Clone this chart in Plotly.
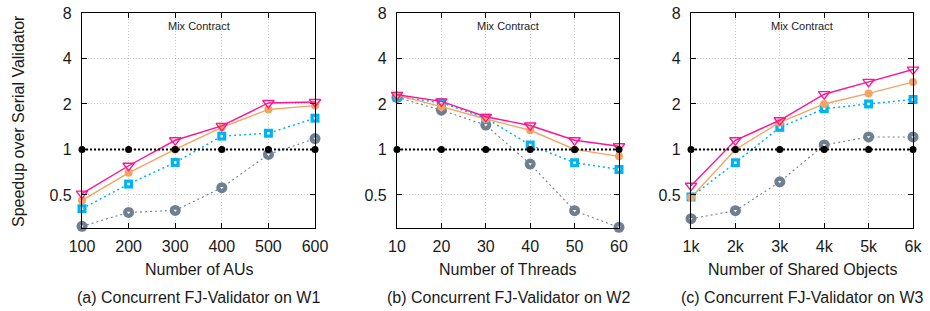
import math
import plotly.graph_objects as go

# ---------------- data ----------------
x_a = [100, 200, 300, 400, 500, 600]
x_b = [10, 20, 30, 40, 50, 60]
x_c = [1, 2, 3, 4, 5, 6]
x_c_labels = ["1k", "2k", "3k", "4k", "5k", "6k"]

# panel (a) W1 - Number of AUs
a_pink = [0.51, 0.78, 1.15, 1.43, 2.03, 2.06]
a_orange = [0.46, 0.70, 1.00, 1.40, 1.84, 1.95]
a_cyan = [0.405, 0.59, 0.82, 1.225, 1.28, 1.61]
a_gray = [0.31, 0.383, 0.395, 0.558, 0.927, 1.18]
a_black = [1, 1, 1, 1, 1, 1]

# panel (b) W2 - Number of Threads
b_pink = [2.30, 2.08, 1.645, 1.44, 1.15, 1.05]
b_orange = [2.28, 1.92, 1.59, 1.34, 1.00, 0.90]
b_cyan = [2.22, 2.04, 1.61, 1.07, 0.816, 0.737]
b_gray = [2.21, 1.82, 1.45, 0.80, 0.393, 0.305]
b_black = [1, 1, 1, 1, 1, 1]

# panel (c) W3 - Number of Shared Objects
c_pink = [0.575, 1.15, 1.56, 2.32, 2.80, 3.38]
c_orange = [0.48, 1.00, 1.51, 2.00, 2.35, 2.79]
c_cyan = [0.485, 0.816, 1.40, 1.86, 2.00, 2.14]
c_gray = [0.348, 0.393, 0.61, 1.07, 1.21, 1.21]
c_black = [1, 1, 1, 1, 1, 1]

y_ticks = [0.5, 1, 2, 4, 8]
y_tick_labels = ["0.5", "1", "2", "4", "8"]

x_titles = ["Number of AUs", "Number of Threads", "Number of Shared Objects"]
captions = ["(a) Concurrent FJ-Validator on W1",
            "(b) Concurrent FJ-Validator on W2",
            "(c) Concurrent FJ-Validator on W3"]
inner_label = "Mix Contract"
y_title = "Speedup over Serial Validator"

# ---------------- styling ----------------
W, H = 930, 311
FONT = "Liberation Sans, Arial, Helvetica, sans-serif"
TXT = "#1a1a1a"
PINK = "#ff1493"
ORANGE = "#f4a460"
CYAN = "#00b4f0"
GRAY = "#6e7f8f"
BLACK = "#000000"

dom_x = [(82 / W, 315 / W), (397 / W, 619 / W), (691 / W, 913 / W)]
dom_y = (1 - 228 / H, 1 - 13 / H)

fig = go.Figure()

panels = [
    (x_a, a_gray, a_cyan, a_orange, a_pink, a_black),
    (x_b, b_gray, b_cyan, b_orange, b_pink, b_black),
    (x_c, c_gray, c_cyan, c_orange, c_pink, c_black),
]

for i, (xs, gray, cyan, orange, pink, black) in enumerate(panels):
    xa = "x" if i == 0 else f"x{i+1}"
    ya = "y" if i == 0 else f"y{i+1}"
    common = dict(xaxis=xa, yaxis=ya, showlegend=False, cliponaxis=False)
    # gray
    fig.add_trace(go.Scatter(x=xs, y=gray, mode="lines+markers",
                             line=dict(color=GRAY, width=1.1, dash="2px,3px"),
                             marker=dict(symbol="circle", size=11, color=GRAY),
                             **common))
    fig.add_trace(go.Scatter(x=xs, y=gray, mode="markers",
                             marker=dict(symbol="triangle-down", size=3, color="white"),
                             **common))
    # cyan
    fig.add_trace(go.Scatter(x=xs, y=cyan, mode="lines+markers",
                             line=dict(color=CYAN, width=1.5, dash="2px,3px"),
                             marker=dict(symbol="square", size=9, color=CYAN),
                             **common))
    fig.add_trace(go.Scatter(x=xs, y=cyan, mode="markers",
                             marker=dict(symbol="square", size=2.5, color="white"),
                             **common))
    # orange
    fig.add_trace(go.Scatter(x=xs, y=orange, mode="lines+markers",
                             line=dict(color=ORANGE, width=1.4),
                             marker=dict(symbol="circle", size=8, color=ORANGE),
                             **common))
    # pink
    fig.add_trace(go.Scatter(x=xs, y=pink, mode="lines+markers",
                             line=dict(color=PINK, width=1.4),
                             marker=dict(symbol="triangle-down-open", size=10,
                                         color=PINK, line=dict(width=1.3, color=PINK)),
                             **common))
    # black baseline
    fig.add_trace(go.Scatter(x=xs, y=black, mode="lines+markers",
                             line=dict(color=BLACK, width=2, dash="2px,2px"),
                             marker=dict(symbol="circle", size=7, color=BLACK),
                             **common))

axis_common = dict(showline=True, linecolor="black", linewidth=1.2, mirror="ticks",
                   ticks="inside", ticklen=5, tickcolor="black", tickwidth=1,
                   showgrid=True, gridcolor="#cfcfcf", griddash="1px,2px", gridwidth=1,
                   zeroline=False, automargin=False,
                   tickfont=dict(family=FONT, size=16, color=TXT))

x_ticktexts = [[str(v) for v in x_a], [str(v) for v in x_b], x_c_labels]
x_vals = [x_a, x_b, x_c]

for i in range(3):
    sfx = "" if i == 0 else str(i + 1)
    fig.update_layout(**{
        f"xaxis{sfx}": dict(domain=dom_x[i], anchor=f"y{sfx}",
                            range=[x_vals[i][0], x_vals[i][-1]],
                            tickvals=x_vals[i], ticktext=x_ticktexts[i],
                            ticklabelstandoff=4, **axis_common),
        f"yaxis{sfx}": dict(domain=dom_y, anchor=f"x{sfx}", type="log",
                            range=[math.log10(0.302), math.log10(8)],
                            tickvals=y_ticks, ticktext=y_tick_labels,
                            ticklabelstandoff=6, **axis_common),
    })
    cx = (dom_x[i][0] + dom_x[i][1]) / 2
    ann = dict(xref="paper", yref="paper", showarrow=False,
               xanchor="center", yanchor="middle")
    fig.add_annotation(x=cx, y=1 - 26 / H, text=inner_label,
                       font=dict(family=FONT, size=11, color="#222"), **ann)
    fig.add_annotation(x=cx, y=1 - 269 / H, text=x_titles[i],
                       font=dict(family=FONT, size=16, color=TXT), **ann)
    fig.add_annotation(x=cx, y=1 - 297 / H, text=captions[i],
                       font=dict(family=FONT, size=16, color=TXT), **ann)

fig.add_annotation(x=18 / W, y=1 - 121 / H, xref="paper", yref="paper",
                   xanchor="center", yanchor="middle",
                   text=y_title, showarrow=False, textangle=-90,
                   font=dict(family=FONT, size=16, color=TXT))

fig.update_layout(width=W, height=H, margin=dict(l=0, r=0, t=0, b=0),
                  plot_bgcolor="white", paper_bgcolor="white")

fig.write_html("out.html", config={"displayModeBar": False})

# remove the browser's default body margin so the figure sits at (0, 0)
with open("out.html", "r", encoding="utf-8") as f:
    html = f.read()
html = html.replace("<head>", "<head><style>html,body{margin:0;padding:0;overflow:hidden;}</style>", 1)
with open("out.html", "w", encoding="utf-8") as f:
    f.write(html)
